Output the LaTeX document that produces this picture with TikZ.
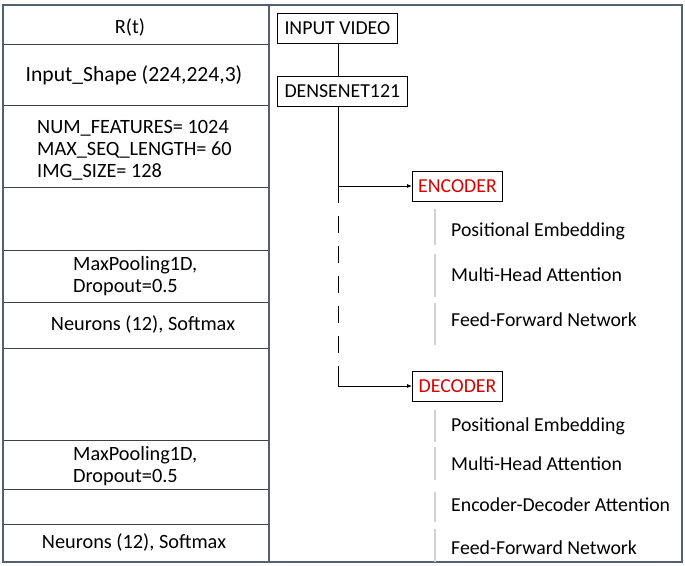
\documentclass[tikz,border=0pt]{standalone}
\usepackage{fontspec}
\setmainfont{Carlito}
\usetikzlibrary{arrows.meta}
\definecolor{framecol}{RGB}{85,95,112}
\begin{document}
\begin{tikzpicture}[x=1pt,y=-1pt,
  every node/.style={inner sep=0pt,font=\fontsize{20.3}{22}\selectfont},
  cellline/.style={draw=black!75,line width=0.8pt},
  frameline/.style={draw=framecol,line width=1.3pt},
  blockbox/.style={draw=black,line width=1pt,minimum height=30pt,inner xsep=7pt,anchor=west,font=\fontsize{19.8}{22}\selectfont},
  redtxt/.style={text=red!85!black},
  subline/.style={draw=black!18,line width=1.2pt},
  sublabel/.style={anchor=west,font=\fontsize{19.8}{22}\selectfont},
  conn/.style={draw=black,line width=0.8pt},
  arr/.style={conn,-{Latex[length=5pt,width=4pt]}}
]
\useasboundingbox (0,0) rectangle (685,565);
% left table lines
\foreach \yy in {44,105,187,250,302,348,440,489,524}
  \draw[cellline] (3,\yy) -- (269,\yy);
% frame
\draw[frameline] (3,5) rectangle (682,562);
\draw[frameline] (269,5) -- (269,562);
% left texts
\node (rt) at (130,27) {R(t)};
\node[font=\fontsize{21.6}{24}\selectfont] (inshape) at (134,75) {Input\_Shape (224,224,3)};
\node[anchor=west,align=left] (params) at (37,150) {NUM\_FEATURES= 1024\\MAX\_SEQ\_LENGTH= 60\\IMG\_SIZE= 128};
\node[anchor=west,align=left] (mp1) at (73,276) {MaxPooling1D,\\Dropout=0.5};
\node (neu1) at (143,324) {Neurons (12), Softmax};
\node[anchor=west,align=left] (mp2) at (73,466) {MaxPooling1D,\\Dropout=0.5};
\node (neu2) at (134,542) {Neurons (12), Softmax};
% right blocks
\node[blockbox] (vid) at (277,28) {INPUT VIDEO};
\node[blockbox] (dense) at (277,91) {DENSENET121};
\node[blockbox,redtxt,minimum width=90pt,inner xsep=0pt] (enc) at (412,186) {ENCODER};
\node[blockbox,redtxt,minimum width=90pt,inner xsep=0pt] (dec) at (412,386) {DECODER};
\coordinate (tap) at (338,0);
\draw[conn] (vid.south -| tap) -- (dense.north -| tap);
\draw[arr] (dense.south -| tap) -- (tap |- enc.west) -- (enc.west);
\draw[conn,dash pattern=on 17pt off 13pt] (tap |- enc.west) -- ([yshift=20pt]tap |- dec.west);
\draw[arr] ([yshift=20pt]tap |- dec.west) -- (tap |- dec.west) -- (dec.west);
% encoder sub-items
\draw[subline] (435,209) -- (435,245);
\draw[subline] (435,254) -- (435,297);
\draw[subline] (435,303) -- (435,345);
\node[sublabel] (epe) at (451,231) {Positional Embedding};
\node[sublabel] (emh) at (451,275) {Multi-Head Attention};
\node[sublabel] (eff) at (451,320) {Feed-Forward Network};
% decoder sub-items
\draw[subline] (435,410) -- (435,442);
\draw[subline] (435,447) -- (435,480);
\draw[subline] (435,492) -- (435,522);
\draw[subline] (435,529) -- (435,562);
\node[sublabel] (dpe) at (451,426) {Positional Embedding};
\node[sublabel] (dmh) at (451,464) {Multi-Head Attention};
\node[sublabel] (dea) at (451,505) {Encoder-Decoder Attention};
\node[sublabel] (dff) at (451,548) {Feed-Forward Network};
\end{tikzpicture}
\end{document}
